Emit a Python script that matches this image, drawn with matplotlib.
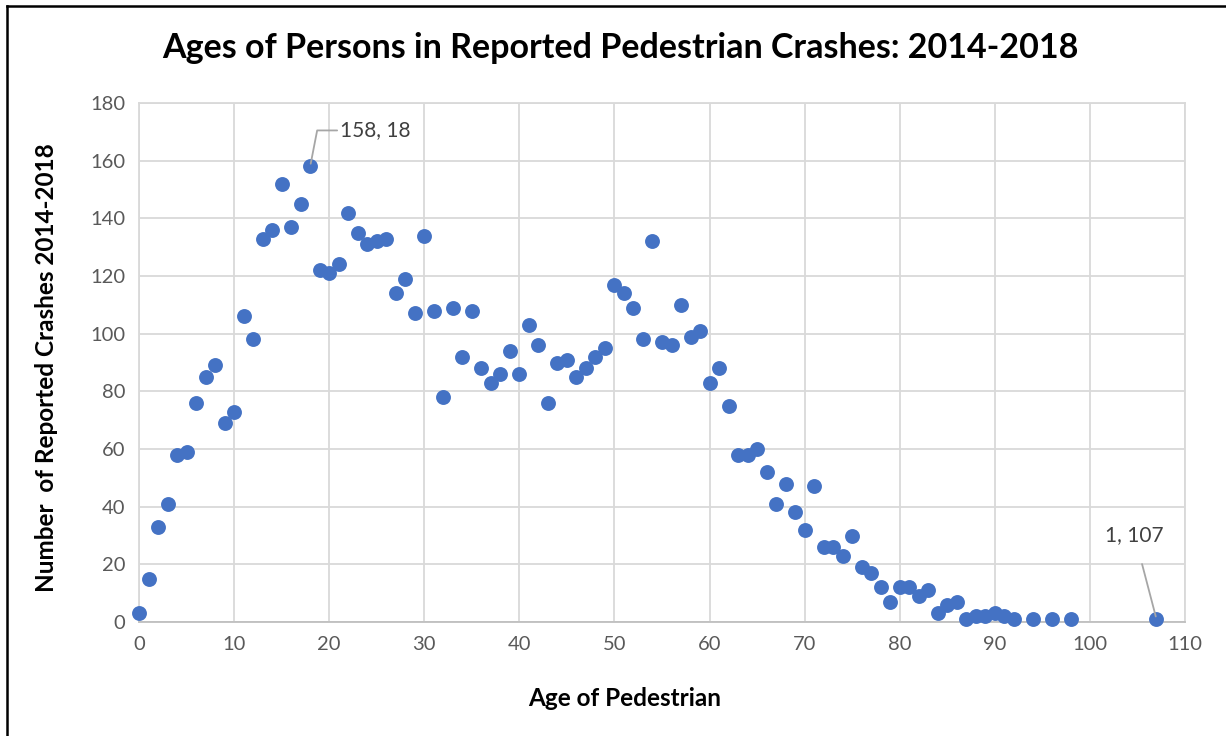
import matplotlib
matplotlib.use("Agg")
import matplotlib.pyplot as plt
from matplotlib.lines import Line2D

plt.rcParams['font.family'] = ['Lato', 'DejaVu Sans']

ages = [0, 1, 2, 3, 4, 5, 6, 7, 8, 9,
        10, 11, 12, 13, 14, 15, 16, 17, 18, 19,
        20, 21, 22, 23, 24, 25, 26, 27, 28, 29,
        30, 31, 32, 33, 34, 35, 36, 37, 38, 39,
        40, 41, 42, 43, 44, 45, 46, 47, 48, 49,
        50, 51, 52, 53, 54, 55, 56, 57, 58, 59,
        60, 61, 62, 63, 64, 65, 66, 67, 68, 69,
        70, 71, 72, 73, 74, 75, 76, 77, 78, 79,
        80, 81, 82, 83, 84, 85, 86, 87, 88, 89,
        90, 91, 92, 94, 96, 98, 107]
crashes = [3, 15, 33, 41, 58, 59, 76, 85, 89, 69,
           73, 106, 98, 133, 136, 152, 137, 145, 158, 122,
           121, 124, 142, 135, 131, 132, 133, 114, 119, 107,
           134, 108, 78, 109, 92, 108, 88, 83, 86, 94,
           86, 103, 96, 76, 90, 91, 85, 88, 92, 95,
           117, 114, 109, 98, 132, 97, 96, 110, 99, 101,
           83, 88, 75, 58, 58, 60, 52, 41, 48, 38,
           32, 47, 26, 26, 23, 30, 19, 17, 12, 7,
           12, 12, 9, 11, 3, 6, 7, 1, 2, 2,
           3, 2, 1, 1, 1, 1, 1]

x_ticks = list(range(0, 111, 10))
y_ticks = list(range(0, 181, 20))

title = "Ages of Persons in Reported Pedestrian Crashes: 2014-2018"
x_label = "Age of Pedestrian"
y_label = "Number  of Reported Crashes 2014-2018"

W, H = 1226, 736
fig = plt.figure(figsize=(W / 100, H / 100), dpi=100)
ax = fig.add_axes([139 / W, 1 - 622 / H, (1185 - 139) / W, (622 - 103) / H])

grid_c = '#d9d9d9'
ax.set_xlim(0, 110)
ax.set_ylim(0, 180)
ax.set_xticks(x_ticks)
ax.set_yticks(y_ticks)
ax.grid(True, color=grid_c, linewidth=1.3)
ax.set_axisbelow(True)
for s in ax.spines.values():
    s.set_color(grid_c)
    s.set_linewidth(1.3)
ax.spines['bottom'].set_color('#bfbfbf')
ax.tick_params(length=0, labelsize=14.5, labelcolor='#595959', pad=10)

ax.scatter(ages, crashes, s=115, color='#4472C4', zorder=3, clip_on=False,
           linewidths=0)

# data labels
i_max = crashes.index(max(crashes))
ax.annotate(f"{crashes[i_max]}, {ages[i_max]}", xy=(ages[i_max], crashes[i_max]),
            xytext=(65, 36), textcoords='offset pixels', ha='center', va='center',
            fontsize=15, color='#404040',
            arrowprops=dict(arrowstyle='-', color='#a6a6a6', lw=1.3,
                            connectionstyle='angle,angleA=0,angleB=79,rad=0',
                            shrinkA=35, shrinkB=2))
i_last = len(ages) - 1
ax.annotate(f"{crashes[i_last]}, {ages[i_last]}", xy=(ages[i_last], crashes[i_last]),
            xytext=(-22, 84), textcoords='offset pixels', ha='center', va='center',
            fontsize=15, color='#404040',
            arrowprops=dict(arrowstyle='-', color='#a6a6a6', lw=1.3,
                            shrinkA=12, shrinkB=2))

fig.text(620 / W, 1 - 48 / H, title, ha='center', va='center',
         fontsize=24.5, fontweight='bold', color='black')
fig.text(625 / W, 1 - 698 / H, x_label, ha='center', va='center',
         fontsize=17.5, fontweight='bold', color='black')
fig.text(47 / W, 1 - 368 / H, y_label, ha='center', va='center', rotation=90,
         fontsize=17.5, fontweight='bold', color='black')

# outer chart border (left and top visible)
fig.add_artist(Line2D([7 / W, 7 / W], [0, 1 - 6 / H], transform=fig.transFigure,
                      color='black', lw=1.8))
fig.add_artist(Line2D([7 / W, 1], [1 - 6 / H, 1 - 6 / H], transform=fig.transFigure,
                      color='black', lw=1.8))

fig.savefig('out.png', dpi=100)
